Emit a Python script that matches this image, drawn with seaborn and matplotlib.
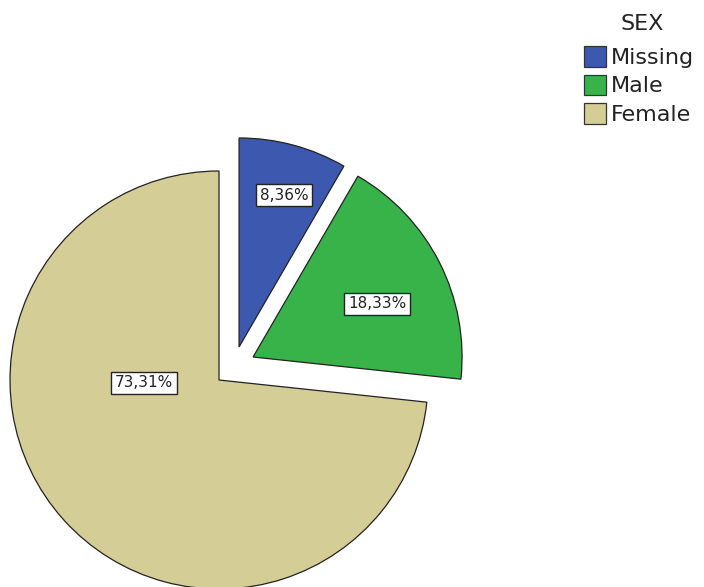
import matplotlib
matplotlib.use("Agg")
import matplotlib.pyplot as plt
import seaborn as sns
from matplotlib.patches import Patch

categories = ["Missing", "Male", "Female"]
percents = [8.36, 18.33, 73.31]
pct_labels = ["8,36%", "18,33%", "73,31%"]
colors = ["#3D58AF", "#37B34A", "#D5CD96"]
# offsets of detached slices (in pie radii), as drawn by the original tool
slice_offsets = [(0.096, 0.158), (0.163, 0.110), (0.0, 0.0)]
# label anchor positions (data units, pie radius = 1)
label_pos = [(0.311, 0.885), (0.756, 0.364), (-0.359, -0.014)]

sns.set_theme(style="white")
plt.rcParams['font.family'] = ['DejaVu Sans']

W, H = 704, 587
fig = plt.figure(figsize=(W / 100, H / 100), dpi=100)
ax = fig.add_axes([0, 0, 1, 1])
R = 209.0
cx, cy = 219.0, 380.0

wedges, _ = ax.pie(percents, colors=colors, startangle=90,
                   counterclock=False, radius=1.0,
                   wedgeprops=dict(edgecolor="#222222", linewidth=0.9),
                   frame=True)
for w, off in zip(wedges, slice_offsets):
    w.set_center(off)
ax.set_xlim(-cx / R, (W - cx) / R)
ax.set_ylim(-(H - cy) / R, cy / R)
ax.set_aspect("equal")
ax.axis("off")

for (x, y), lab in zip(label_pos, pct_labels):
    ax.text(x, y, lab, ha="center", va="center", fontsize=11, color="#222222",
            bbox=dict(boxstyle="square,pad=0.25", fc="white", ec="#222222", lw=1.0))

fig.text(642 / W, 1 - 24 / H, "SEX", ha="center", va="center", fontsize=16,
         color="#222222")
handles = [Patch(facecolor=c, edgecolor="#333333", linewidth=0.9) for c in colors]
leg = fig.legend(handles, categories, loc="upper left",
                 bbox_to_anchor=(584 / W, 1 - 46 / H), frameon=False,
                 fontsize=16, handlelength=1.0, handleheight=1.05,
                 handletextpad=0.2, labelspacing=0.3, borderaxespad=0, borderpad=0.0)
for t in leg.get_texts():
    t.set_color("#222222")

fig.savefig("out.png", dpi=100)
